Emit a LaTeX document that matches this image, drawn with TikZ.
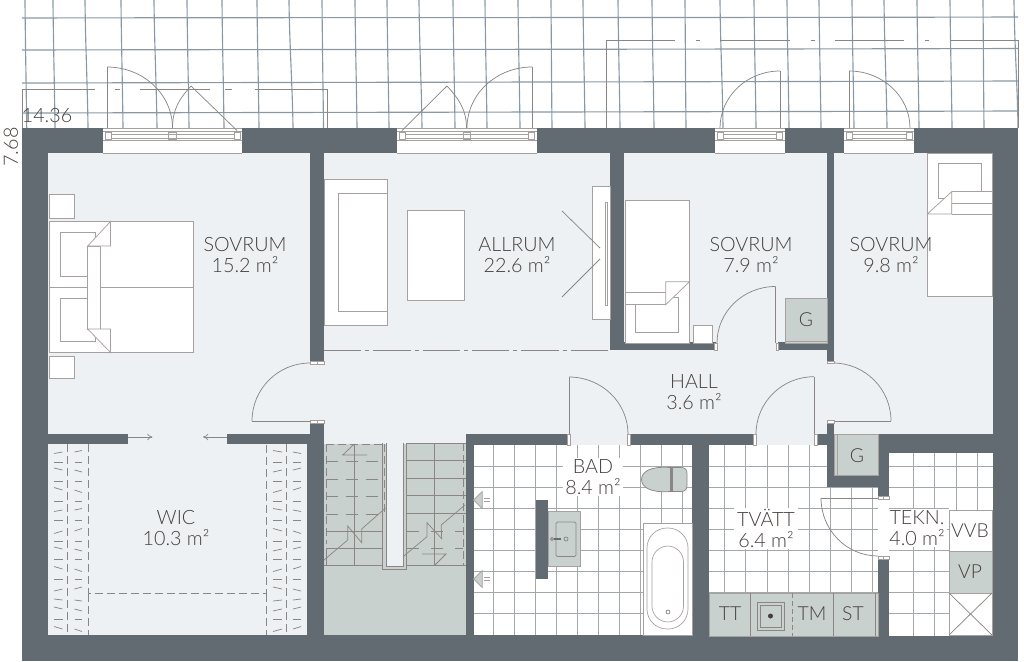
\documentclass[tikz,border=0pt]{standalone}
\usepackage{fontspec}
\setmainfont{Lato Light}
\usetikzlibrary{calc,arrows.meta}
\definecolor{wallc}{HTML}{626B72}
\definecolor{roomc}{HTML}{EEF1F3}
\definecolor{greenc}{HTML}{C9D1CE}
\definecolor{linec}{HTML}{8B8684}
\definecolor{softc}{HTML}{A6A19E}
\definecolor{tilec}{HTML}{A3A8AD}
\definecolor{gridc}{HTML}{8899A5}
\definecolor{textc}{HTML}{453F3D}
\tikzset{
  wall/.style={fill=wallc,draw=none},
  room/.style={fill=roomc,draw=none},
  whitebox/.style={fill=white,draw=none},
  fine/.style={draw=linec,line width=0.55pt},
  soft/.style={draw=softc,line width=0.5pt},
  furn/.style={fill=white,draw=softc,line width=0.55pt},
  gfurn/.style={fill=greenc,draw=softc,line width=0.55pt},
  tile/.style={draw=tilec,line width=0.55pt},
  gridl/.style={draw=gridc,line width=0.85pt},
  dashl/.style={draw=linec,line width=0.6pt,dash pattern=on 6pt off 3pt},
  label/.style={text=textc,font=\fontsize{14.8}{15.7}\selectfont,align=center,inner sep=1pt},
  halo/.style={label,fill=white,inner xsep=2pt,inner ysep=1pt},
  small/.style={text=textc,font=\fontsize{14.5}{15}\selectfont,inner sep=0pt},
}
\newcommand\qarc[3]{\draw[fine] (#1) .. controls ($(#1)!.552!(#3)$) and ($(#2)!.552!(#3)$) .. (#2);}
\newcommand\winblock[3]{%
  \fill[white] (#1,128) rectangle (#2,153);
  \draw[soft] (#1,153) -- (#2,153);
  \draw[soft] (#1,128) -- (#2,128);
  \draw[soft] (#1,131.5) -- (#2,131.5);
  \draw[soft] (#1,140) -- (#2,140);
  \draw[soft] (#1+2,132) rectangle (#1+8,139);
  \draw[soft] (#2-8,132) rectangle (#2-2,139);
  \draw[soft] (#1+8,134) -- (#2-8,134);
  \draw[soft] (#1+8,138) -- (#2-8,138);
}
\begin{document}
\begin{tikzpicture}[x=0.75pt,y=-0.75pt]
\useasboundingbox (0,0) rectangle (1024,661);
\fill[white] (0,0) rectangle (1024,661);
% ground grid
\foreach \t/\b in {25/26.7,53/55,85/88,121/123,154/157,187/189,222/224,257/259,289/293,322/323.5,355/357,387/389,419/422,453/455,485/487,518/520,551/552,583/585,618/620,652/654,685/686,720/723,754/756,787/789,819/821,852/854,884/887,917/919,950/952,983/984,1014/1018}
  \draw[gridl] (\t,0) .. controls (\t+.3,40) and (\b-.4,90) .. (\b,128);
\foreach \l/\r in {18/17,50/48.5,83/81,113/111}
  \draw[gridl] (22,\l) .. controls (300,\l-.6) and (700,\r+.8) .. (1018,\r);
% terraces
\draw[fine] (22,128) -- (22,89) -- (95,89);
\draw[fine] (115,89) -- (120,89);
\draw[fine] (140,89) -- (210,89);
\draw[fine] (225,89) -- (232,89);
\draw[fine] (255,89) -- (327,89) -- (327,128);
\draw[fine] (606,128) -- (606,40.7) -- (675,40.7);
\draw[fine] (696,40.7) -- (700,40.7);
\draw[fine] (720,40.7) -- (790,40.7);
\draw[fine] (811,40.7) -- (815,40.7);
\draw[fine] (835,40.7) -- (904,40.7);
\draw[fine] (925,40.7) -- (929,40.7);
\draw[fine] (950,40.7) -- (1018,40.7) -- (1018,128);
% walls
\fill[wall] (22,128) rectangle (1018,661);
% rooms (hall colour)
\fill[room] (48,153) rectangle (310,433.5);
\fill[room] (128,433) rectangle (227,445);
\fill[room] (48,444) rectangle (307,635);
\fill[room] (324,153) rectangle (610,434);
\fill[room] (310,363) rectangle (324,421);
\fill[room] (610,350) rectangle (827,434);
\fill[room] (624,153) rectangle (827,342);
\fill[room] (716,342) rectangle (778,350);
\fill[room] (834,153) rectangle (993,434);
\fill[room] (827,362) rectangle (834,421);
\fill[room] (324,434) rectangle (466,444);
\fill[room] (569,433) rectangle (628,445);
\fill[room] (755,433) rectangle (815,445);
% stairs
\fill[greenc] (324,443.5) rectangle (466,635);
\fill[room] (386,443) rectangle (403,566);
\draw[fine] (382.7,443) -- (382.7,569) -- (406.7,569) -- (406.7,443);
\draw[fine] (386,443) -- (386,566) -- (403,566) -- (403,443);
\draw[fine] (324,565.7) -- (382.7,565.7);
\draw[fine] (406.7,565.7) -- (466,565.7);
\draw[fine] (354.3,444) -- (354.3,565.7);
\draw[fine] (434.3,443) -- (434.3,565.7);
\foreach \y in {461,479,496,514} {
  \draw[dashl,dash pattern=on 9pt off 6pt] (326,\y) -- (382,\y);
}
\foreach \y in {531,548} \draw[fine] (326,\y) -- (382.7,\y);
\draw[fine] (326,548) -- (326,565.7);
\foreach \y in {443,460,478,495,513} \draw[fine] (406.7,\y) -- (466,\y);
\foreach \y in {531,548} \draw[dashl,dash pattern=on 9pt off 9pt] (407,\y) -- (463,\y);
\draw[dashl] (326,444) -- (382,444);
\draw[dashl] (326,444) -- (326,544);
\draw[dashl] (384,444) -- (384,512);
\draw[dashl] (463,443) -- (463,565);
\draw[fine] (324,560) -- (347.7,540) -- (347.7,526) -- (361.7,542.7) -- (361.7,529) -- (385.5,508);
\draw[fine] (403,556.7) -- (427,536.7) -- (427,522.7) -- (441.7,538.7) -- (441.2,525) -- (465,505);
\draw[fine] (367,455) -- (342.7,455) -- (354.3,444);
\draw[fine] (422,554) -- (446,554) -- (434.3,565.7);
% tiled rooms
\fill[white] (473.5,445) rectangle (692,635);
\foreach \x in {493,514,535,556.5,577.5,598.5,619.5,640.5,661.5,682.5}
  \draw[tile] (\x,445) -- (\x,635);
\foreach \y in {466,487,508,529,550,571,592,613.5}
  \draw[tile] (473.5,\y) -- (692,\y);
\fill[white] (709,445) rectangle (827,487);
\fill[white] (709,487) rectangle (878,636);
\fill[white] (878,497) rectangle (889,557);
\foreach \x in {724,745.5,767,788,809} \draw[tile] (\x,445) -- (\x,636);
\foreach \x in {830,851,872} \draw[tile] (\x,487) -- (\x,636);
\foreach \y in {466} \draw[tile] (709,\y) -- (827,\y);
\foreach \y in {487,508,529,550,571,592} \draw[tile] (709,\y) -- (878,\y);
\fill[white] (889,452.7) rectangle (993,636);
\foreach \x in {913,934.7,956,977.7} \draw[tile] (\x,452.7) -- (\x,636);
\foreach \y in {466,487} \draw[tile] (889,\y) -- (993,\y);
\foreach \y in {508,529,550,571,592,613} \draw[tile] (889,\y) -- (949,\y);
% windows and terrace doors
\winblock{103}{242}{172.5}
\draw[soft] (168.5,132) rectangle (176.5,139);
\winblock{397}{536.5}{466.7}
\draw[soft] (463,132) rectangle (470.5,139);
\winblock{715}{784.5}{750}
\winblock{844}{914}{879}
\draw[fine] (107,128) -- (107,67);
\qarc{107,67}{172.5,128}{172.5,67}
\draw[fine] (237,130.5) -- (191,86);
\draw[fine] (191,86) .. controls (179,99) and (172.5,110) .. (172.5,128);
\draw[fine] (402,130.5) -- (447,86);
\draw[fine] (447,86) .. controls (459,99) and (466.5,110) .. (466.5,128);
\draw[fine] (532,128) -- (532,67);
\qarc{532,67}{467,128}{467,67}
\draw[fine] (780,128) -- (780,71);
\qarc{780,71}{720,128}{720,71}
\draw[fine] (849,128) -- (849,71);
\qarc{849,71}{910,128}{910,71}
% interior doors
\draw[fine] (252,421) -- (310,421);
\qarc{252,421}{310,363}{252,363}
\draw[fine] (775.5,343) -- (775.5,286.5);
\qarc{775.5,286.5}{717,343}{717,286.5}
\draw[fine] (569,434) -- (569,377);
\qarc{569,377}{628,434}{628,377}
\draw[fine] (814,434) -- (814,376.7);
\qarc{814,376.7}{756,434}{756,376.7}
\draw[fine] (891,421) -- (827,421);
\qarc{891,421}{833,363}{891,363}
\draw[fine] (821,498) -- (878,498);
\qarc{821,498}{878,556}{821,556}
\foreach \a/\b/\c/\d in {310/361/317/364,317/361/324/364,310/420/317/423,317/420/324/423,827/361/834/363.5,827/420.5/834/423.5,
  878/496/883/499,883/496/889/499,878/556/883/559,883/556/889/559,
  567/434/570/445,627/434/630/445,753/434/756/445,814/434/817/445,714/343/717/350,776/343/778.5/350}
  \draw[furn] (\a,\b) rectangle (\c,\d);
% WIC door arrows
\draw[fine,-{To[length=4pt,width=5pt]}] (128,437) -- (152.5,437);
\draw[fine,-{To[length=4pt,width=5pt]}] (227,437) -- (203,437);
% WIC hangers
\draw[dashl] (88.5,444) -- (88.5,593.7) -- (266,593.7) -- (266,444);
\draw[dashl] (88.5,593.7) -- (88.5,635);
\draw[dashl] (266,593.7) -- (266,635);
\draw[dashl] (67.5,444) -- (67.5,635);
\draw[dashl] (286.5,444) -- (286.5,635);
\foreach \y/\t in {452/1.5,462/0,470/-2,481/0,490/-2.5,501/0,510/1.5,520/0,531/2.5,541/0,549/-2,559/0,569/-2.5,579/0,589/2,600/-1,609/-2,619/0,629/-2.5} {
  \draw[fine] (54,\y+\t) -- (62.5,\y);
  \draw[fine] (74.5,\y) -- (82,\y-\t);
  \draw[fine] (273,\y-\t) -- (282,\y);
  \draw[fine] (293,\y) -- (301,\y+\t);
}
% master bedroom furniture
\draw[furn] (49.5,194) rectangle (74.5,218);
\draw[furn] (49.5,356) rectangle (74.5,378.5);
\draw[furn] (49.5,221.5) rectangle (193.5,352.5);
\draw[soft] (49.5,287) -- (193.5,287);
\draw[furn] (60,232.5) rectangle (95,276.5);
\draw[furn] (60,298) rectangle (95,341.5);
\draw[furn] (87.7,246) rectangle (100,329);
\draw[furn] (87.7,246) -- (110.5,221.5) -- (110.5,246) -- cycle;
\draw[furn] (87.7,329) -- (110.5,352.5) -- (110.5,329) -- cycle;
% living room furniture
\draw[furn] (324,179) rectangle (387,325);
\draw[furn] (338,193) rectangle (387,311);
\draw[furn] (407,210) rectangle (464,300);
\draw[furn] (592.3,186) rectangle (610,319);
\draw[soft] (605.3,202) -- (605.3,305) -- (607,305) -- (607,202) -- cycle;
\draw[fine] (562,211) -- (600,248);
\draw[fine] (562,297) -- (600,259);
\draw[draw=linec,line width=0.6pt,dash pattern=on 28pt off 3pt on 3pt off 3pt] (324,350) -- (610,350);
% small bedroom furniture
\draw[furn] (625,200) rectangle (689.5,343);
\draw[furn] (635,297) -- (678,297) -- (678,332.5) -- (635,332.5) -- cycle;
\fill[white] (625.5,292.7) rectangle (665.7,304.7);
\draw[soft] (625,292.7) -- (665.7,292.7);
\draw[soft] (625,304.7) -- (665.7,304.7);
\draw[furn] (665.7,304.7) -- (665.7,281.7) -- (689.5,281.7) -- cycle;
\draw[furn] (693.5,325) rectangle (712.5,343);
\draw[gfurn] (785,298) rectangle (827,343);
\draw[soft] (785,341) -- (827,341);
% right bedroom furniture
\draw[furn] (927.3,153) rectangle (992,296);
\draw[furn] (938.3,163.3) rectangle (981.7,198);
\fill[white] (951.7,191.7) rectangle (992,203.3);
\draw[soft] (951.7,191.7) -- (992,191.7);
\draw[soft] (951.7,203.3) -- (992,203.3);
\draw[soft] (951.7,203.3) -- (951.7,214);
\draw[furn] (927.3,214) -- (951.7,191.7) -- (951.7,214) -- cycle;
\draw[soft] (951.7,214) -- (992,214);
% bathroom furniture
\fill[wall] (535.7,500) rectangle (548.3,579);
\draw[gfurn] (548.3,511.7) rectangle (580,566.7);
\draw[gfurn,draw=linec,rounded corners=1pt] (556,522) rectangle (576,556.5);
\draw[fine] (552,539) circle[radius=1.5];
\draw[draw=wallc,line width=1pt] (553.5,539) -- (561,539);
\draw[fine] (566,539) circle[radius=2];
\draw[gfurn,draw=linec] (670,467.5) .. controls (650,466) and (641.5,472) .. (641.5,479.5) .. controls (641.5,487) and (650,493) .. (670,491.5) -- (680,491.5) .. controls (685,491.5) and (687,490) .. (687,485) -- (687,474) .. controls (687,469) and (685,467.5) .. (680,467.5) -- cycle;
\fill[linec] (670,467.5) rectangle (673,491.5);
\draw[furn] (643.3,523) rectangle (692,635);
\draw[soft,rounded corners=15pt] (647,528) rectangle (688,629);
\draw[soft,rounded corners=12pt] (652,546) rectangle (683.5,622);
\draw[fine] (668,612) circle[radius=2];
\foreach \y in {500,579} {
  \draw[gfurn] (473.5,\y) -- (482.3,\y-8.5) -- (482.3,\y+8.5) -- cycle;
  \draw[soft] (484,\y-1.5) -- (490,\y-1.5);
  \draw[soft] (484,\y+1.5) -- (490,\y+1.5);
}
% G closet in hall
\draw[gfurn] (834,434) rectangle (878,475);
\draw[soft] (837,434) -- (837,475);
% laundry bench
\draw[gfurn] (709,593) rectangle (878,636);
\draw[fine] (750.5,593) -- (750.5,636);
\draw[dashl,dash pattern=on 4pt off 2pt] (792,593) -- (792,636);
\draw[fine] (833.5,593) -- (833.5,636);
\draw[fine] (875,593) -- (875,636);
\draw[gfurn,draw=linec] (757,602) rectangle (784,630);
\draw[fine] (760,605) rectangle (781,627);
\fill[textc] (770.5,616) circle[radius=2.5];
% tech room
\draw[furn] (949,510) rectangle (992,551);
\draw[gfurn] (949,551) rectangle (992,593);
\draw[furn] (949,593) rectangle (992,635);
\draw[fine] (949,593) -- (992,635);
\draw[fine] (992,593) -- (949,635);
% labels
\node[label] (l1) at (245,255) {SOVRUM\\15.2 m²};
\node[label] (l2) at (517,255) {ALLRUM\\22.6 m²};
\node[label] (l3) at (751,255) {SOVRUM\\7.9 m²};
\node[label] (l4) at (891,255) {SOVRUM\\9.8 m²};
\node[label] (l5) at (694,392) {HALL\\3.6 m²};
\node[halo] (l6) at (593,477) {BAD\\8.4 m²};
\node[label] (l7) at (176,528) {WIC\\10.3 m²};
\node[halo] (l8) at (766,528) {TVÄTT\\6.4 m²};
\node[halo] (l9) at (917,528) {TEKN.\\4.0 m²};
\node[small] (g1) at (806,320) {G};
\node[small] (g2) at (857,456) {G};
\node[small] (t1) at (730,614) {TT};
\node[small] (t2) at (812,614) {TM};
\node[small] (t3) at (853,614) {ST};
\node[small] (t4) at (970,531) {VVB};
\node[small] (t5) at (970,572) {VP};
\node[label] (d1) at (47,116) {14.36};
\node[label,rotate=90] (d2) at (11,147) {7.68};
\end{tikzpicture}
\end{document}
